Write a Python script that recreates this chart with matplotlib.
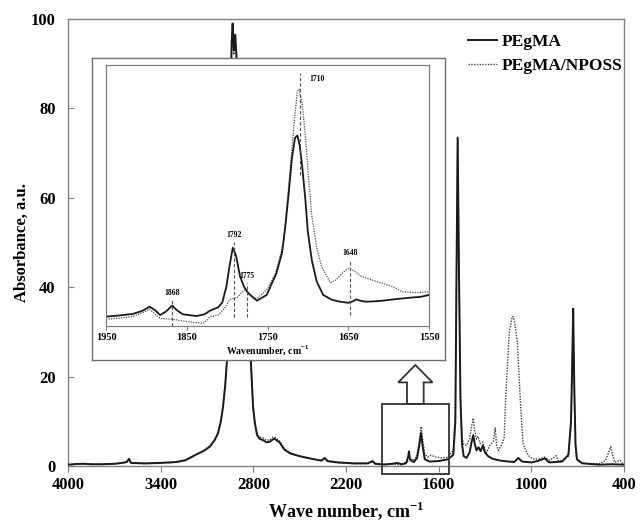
import matplotlib
matplotlib.use("Agg")
import matplotlib.pyplot as plt
from matplotlib.patches import FancyArrow, Rectangle

plt.rcParams["font.family"] = ["Liberation Serif", "DejaVu Serif"]
plt.rcParams["font.weight"] = "bold"
plt.rcParams["mathtext.fontset"] = "custom"
plt.rcParams["mathtext.rm"] = "Liberation Serif:bold"
plt.rcParams["mathtext.bf"] = "Liberation Serif:bold"

SERIES_LABELS = ["PEgMA", "PEgMA/NPOSS"]

# full FTIR spectra, absorbance vs wavenumber (cm-1)
pegma_wn = [4000, 3950, 3900, 3850, 3780, 3700, 3650, 3620, 3605, 3592, 3500, 3400, 3300, 3240,
            3180, 3120, 3082, 3050, 3029, 3010, 2996, 2982, 2970, 2958, 2948, 2940, 2934, 2926,
            2917, 2905, 2880, 2850, 2836, 2826, 2817, 2802, 2790, 2776, 2760, 2738, 2715, 2694,
            2675, 2662, 2645, 2630, 2612, 2597, 2560, 2500, 2420, 2360, 2338, 2318, 2250, 2150,
            2060, 2028, 2010, 1950, 1900, 1868, 1840, 1810, 1798, 1792, 1786, 1775, 1760, 1740,
            1726, 1714, 1704, 1690, 1660, 1600, 1540, 1505, 1492, 1484, 1477, 1469, 1459, 1449,
            1438, 1420, 1400, 1386, 1376, 1367, 1355, 1342, 1328, 1314, 1300, 1280, 1250, 1200,
            1150, 1110, 1085, 1060, 1000, 960, 913, 885, 800, 760, 743, 736, 729, 722, 714, 705,
            670, 560, 480, 400]
pegma_abs = [0.3, 0.45, 0.5, 0.4, 0.4, 0.5, 0.7, 0.9, 1.6, 0.7, 0.6, 0.7, 0.9, 1.3,
             2.4, 3.4, 4.3, 5.8, 7.3, 10, 13.3, 18, 24, 45, 82, 95, 99, 93,
             96.5, 89, 85, 88, 78, 50, 24, 13.3, 9.5, 6.9, 6.1, 5.8, 5.3, 5.4,
             5.9, 6.1, 5.6, 5.3, 4.3, 3.6, 2.8, 2.2, 1.6, 1.2, 1.8, 1.1, 0.8, 0.6,
             0.6, 1.1, 0.5, 0.35, 0.5, 0.7, 0.4, 0.7, 2.0, 3.3, 1.6, 1.1, 0.9, 1.8,
             4.5, 7.4, 4.5, 1.5, 1.0, 1.1, 1.5, 2.5, 10, 45, 73.5, 45, 15, 5,
             2.2, 1.8, 3.0, 5.5, 6.9, 5.0, 3.5, 4.2, 3.3, 4.6, 3.0, 2.2, 1.6, 1.2,
             1.0, 0.9, 1.8, 1.0, 0.8, 1.1, 1.7, 0.8, 1.0, 2.5, 10, 22, 35.2, 18, 5, 1.5,
             0.6, 0.3, 0.4, 0.3]

nposs_wn = [4000, 3950, 3900, 3850, 3780, 3700, 3650, 3620, 3605, 3592, 3500, 3400, 3300, 3240,
            3180, 3120, 3082, 3050, 3029, 3010, 2996, 2982, 2970, 2958, 2948, 2940, 2934, 2926,
            2917, 2905, 2880, 2850, 2836, 2826, 2817, 2802, 2790, 2776, 2760, 2738, 2715, 2694,
            2675, 2662, 2645, 2630, 2612, 2597, 2560, 2500, 2420, 2360, 2338, 2318, 2250, 2150,
            2060, 2028, 2010, 1950, 1900, 1868, 1840, 1810, 1796, 1777, 1765, 1742, 1726, 1714,
            1704, 1690, 1672, 1650, 1620, 1580, 1540, 1505, 1492, 1484, 1477, 1469, 1459, 1449,
            1438, 1420, 1400, 1386, 1376, 1367, 1355, 1345, 1330, 1314, 1300, 1290, 1270, 1246,
            1234, 1224, 1212, 1195, 1176, 1165, 1143, 1125, 1117, 1105, 1090, 1068, 1053, 1030,
            1010, 980, 950, 913, 880, 838, 826, 800, 760, 743, 736, 729, 722, 714, 705, 670,
            560, 520, 500, 486, 474, 460, 425, 410, 400]
nposs_abs = [0.2, 0.35, 0.45, 0.35, 0.35, 0.45, 0.6, 0.8, 1.3, 0.6, 0.5, 0.6, 0.8, 1.2,
             2.3, 3.5, 4.5, 6.0, 7.6, 10.4, 13.8, 18.5, 24.5, 46, 83, 94, 98, 92,
             96, 88, 84, 87, 78, 51, 25, 14, 10, 7.3, 6.5, 6.3, 5.8, 5.8,
             6.4, 6.5, 6.0, 5.6, 4.6, 3.8, 2.9, 2.2, 1.6, 1.2, 1.6, 1.0, 0.7, 0.5,
             0.5, 0.9, 0.4, 0.3, 0.4, 0.3, 0.2, 0.5, 1.2, 1.6, 1.2, 2.2, 5.5, 8.8,
             6.0, 2.8, 2.0, 2.4, 2.0, 1.8, 2.0, 3.5, 12, 46, 73, 46, 16, 6.5,
             4.8, 4.6, 6.0, 9.0, 10.7, 8.0, 6.0, 6.6, 5.0, 5.4, 3.6, 3.0, 4.5, 5.5,
             8.5, 4.5, 3.5, 4.6, 6.3, 16, 29.7, 33.4, 33.4, 31.5, 27.5, 12.5, 5.0, 3.0,
             2.0, 1.5, 1.6, 2.0, 1.3, 2.3, 1.2, 1.2, 2.2, 9, 20, 32, 16, 4, 1.3, 0.6,
             0.5, 1.2, 3.0, 4.3, 2.5, 0.8, 1.3, 0.6, 0.5]

# carbonyl region 1950-1550 cm-1, recorded at higher resolution
inset_pegma_wn = [1950, 1935, 1917, 1905, 1896, 1889, 1883, 1876, 1868, 1862, 1855, 1838, 1828,
                  1821, 1811, 1806, 1801, 1797, 1793, 1789, 1784, 1779, 1774, 1763, 1751, 1739,
                  1732, 1728, 1724, 1720, 1716, 1713, 1710, 1707, 1703, 1700, 1695, 1689, 1681,
                  1670, 1660, 1650, 1644, 1640, 1633, 1627, 1610, 1594, 1575, 1560, 1550]
inset_pegma_abs = [0.36, 0.40, 0.46, 0.58, 0.74, 0.6, 0.42, 0.55, 0.78, 0.6, 0.45, 0.38, 0.45,
                   0.59, 0.72, 0.9, 1.5, 2.3, 3.0, 2.7, 1.9, 1.5, 1.26, 0.97, 1.19, 2.02,
                   2.8, 3.8, 5.0, 6.36, 7.2, 7.3, 6.9, 6.1, 4.8, 3.6, 2.5, 1.7, 1.19,
                   1.0, 0.93, 0.89, 0.95, 1.02, 0.95, 0.93, 0.96, 1.02, 1.08, 1.12, 1.19]
inset_nposs_wn = [1950, 1935, 1917, 1905, 1896, 1889, 1883, 1868, 1850, 1830, 1824, 1821, 1811,
                  1803, 1797, 1792, 1787, 1782, 1777, 1772, 1767, 1763, 1751, 1740, 1730, 1722,
                  1717, 1713, 1711, 1707, 1703, 1699, 1695, 1689, 1683, 1672, 1666, 1660, 1653,
                  1649, 1642, 1635, 1615, 1595, 1583, 1565, 1550]
inset_nposs_abs = [0.26, 0.3, 0.36, 0.5, 0.64, 0.45, 0.29, 0.26, 0.17, 0.1, 0.25, 0.36, 0.42,
                   0.68, 1.0, 1.06, 1.1, 1.28, 1.4, 1.2, 1.06, 1.06, 1.38, 2.02, 3.23, 5.98,
                   7.8, 9.0, 9.07, 8.5, 7.25, 5.6, 4.19, 3.0, 2.27, 1.66, 1.75, 1.95, 2.15,
                   2.21, 2.1, 1.92, 1.7, 1.51, 1.31, 1.28, 1.31]

peak_marks = [1868, 1792, 1775, 1710, 1648]

x_ticks = [4000, 3400, 2800, 2200, 1600, 1000, 400]
y_ticks = [0, 20, 40, 60, 80, 100]
inset_ticks = [1950, 1850, 1750, 1650, 1550]

FRAME = "#808080"
INK = "#1a1a1a"

fig = plt.figure(figsize=(6.4, 5.22), dpi=100)
ax = fig.add_axes([68 / 640, 56 / 522, 556 / 640, 447 / 522])

ax.plot(nposs_wn, nposs_abs, color="#404040", lw=1.0, ls=(0, (1, 1)), label=SERIES_LABELS[1], zorder=2)
ax.plot(pegma_wn, pegma_abs, color=INK, lw=1.4, label=SERIES_LABELS[0], zorder=3)

ax.set_xlim(4000, 400)
ax.set_ylim(0, 100)
ax.set_xticks(x_ticks)
ax.set_yticks(y_ticks)
for s in ax.spines.values():
    s.set_color(FRAME)
    s.set_linewidth(1.0)
ax.tick_params(axis="x", direction="out", length=4, color=FRAME, labelsize=12, pad=4)
ax.tick_params(axis="y", direction="in", length=4, color=FRAME, labelsize=12, pad=9)
ax.set_xlabel(r"Wave number, cm$^{\mathbf{-1}}$", fontsize=13, fontweight="bold")
ax.set_ylabel("Absorbance, a.u.", fontsize=12, fontweight="bold")
ax.xaxis.set_label_coords(0.5, -0.075)
ax.yaxis.set_label_coords(-0.068, 0.5)

handles, labels = ax.get_legend_handles_labels()
ax.legend(handles[::-1], labels[::-1], loc="upper left", bbox_to_anchor=(459 / 640, 1 - 25 / 522),
          bbox_transform=fig.transFigure, frameon=False, fontsize=12.5, borderpad=0,
          handlelength=1.7, handletextpad=0.25, labelspacing=0.45)

# zoom box around the carbonyl region and the arrow pointing to the enlargement
ax.add_patch(Rectangle((1530, -1.8), 440, 15.7, fill=False, edgecolor="#333333", lw=1.3,
                       clip_on=False, zorder=4))
ax.add_patch(FancyArrow(1751, 13.9, 0, 8.7, width=108, head_width=222, head_length=3.9,
                        length_includes_head=True, facecolor="white", edgecolor="#333333",
                        lw=1.3, clip_on=False, zorder=4))

# white panel behind the enlarged view
box = fig.add_axes([92 / 640, 162 / 522, 353 / 640, 302 / 522])
box.set_xticks([])
box.set_yticks([])
box.set_facecolor("white")
for s in box.spines.values():
    s.set_color("#707070")
    s.set_linewidth(1.0)

ins = fig.add_axes([106 / 640, 196 / 522, 323 / 640, 261 / 522])
ins.plot(inset_nposs_wn, inset_nposs_abs, color="#505050", lw=0.9, ls=(0, (1, 1)))
ins.plot(inset_pegma_wn, inset_pegma_abs, color=INK, lw=1.3)
ins.set_xlim(1950, 1550)
ins.set_ylim(0, 10)
ins.set_xticks(inset_ticks)
ins.set_yticks([])
for s in ins.spines.values():
    s.set_color(FRAME)
    s.set_linewidth(0.9)
ins.tick_params(axis="x", direction="out", length=3, color=FRAME, labelsize=7.5, pad=2)
ins.set_xlabel(r"Wavenumber, cm$^{\mathbf{-1}}$", fontsize=7, fontweight="bold", labelpad=1)

# dashed guides: (lower end, upper end, label height, label x)
guides = {1868: (0.0, 1.0, 1.12, 1868), 1792: (0.36, 3.23, 3.35, 1792), 1775: (0.36, 1.65, 1.78, 1775),
          1710: (5.8, 9.7, 9.45, 1689), 1648: (0.42, 2.53, 2.65, 1648)}
for wn in peak_marks:
    lo, hi, ty, tx = guides[wn]
    ins.plot([wn, wn], [lo, hi], color="#505050", lw=0.8, ls=(0, (3, 2)))
    va = "center" if tx != wn else "bottom"
    ins.text(tx, ty, str(wn), fontsize=5.5, fontweight="bold", ha="center", va=va)

fig.savefig("out.png", dpi=100)
